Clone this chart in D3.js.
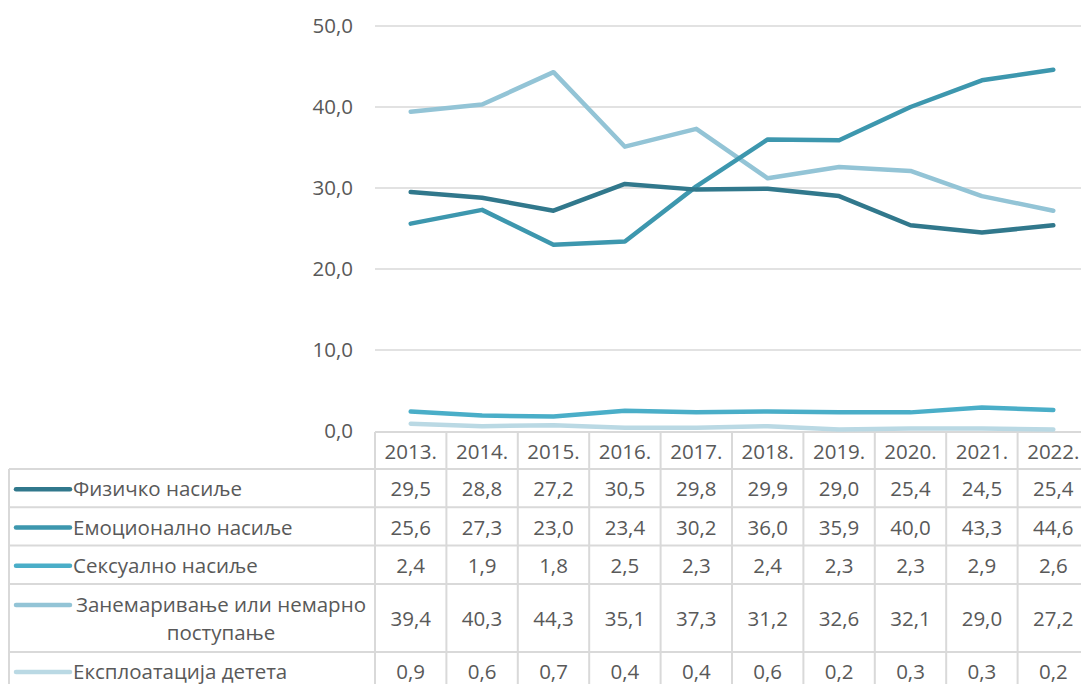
<!DOCTYPE html>
<html>
<head>
<meta charset="utf-8">
<script src="https://cdn.jsdelivr.net/npm/d3@7"></script>
<style>
  body { margin: 0; background: #fff; }
  svg { display: block; font-family: "Open Sans", "Noto Sans", sans-serif; }
</style>
</head>
<body>
<svg id="chart" width="1081" height="684"></svg>
<script>
// Data
const years = ['2013.', '2014.', '2015.', '2016.', '2017.', '2018.', '2019.', '2020.', '2021.', '2022.'];
const seriesNames = [
  ['Физичко насиље'],
  ['Емоционално насиље'],
  ['Сексуално насиље'],
  ['Занемаривање или немарно', 'поступање'],
  ['Експлоатација детета']
];
const physical   = [29.5, 28.8, 27.2, 30.5, 29.8, 29.9, 29.0, 25.4, 24.5, 25.4];
const emotional  = [25.6, 27.3, 23.0, 23.4, 30.2, 36.0, 35.9, 40.0, 43.3, 44.6];
const sexual     = [2.4, 1.9, 1.8, 2.5, 2.3, 2.4, 2.3, 2.3, 2.9, 2.6];
const neglect    = [39.4, 40.3, 44.3, 35.1, 37.3, 31.2, 32.6, 32.1, 29.0, 27.2];
const exploit    = [0.9, 0.6, 0.7, 0.4, 0.4, 0.6, 0.2, 0.3, 0.3, 0.2];
const yTicks = [0, 10, 20, 30, 40, 50];

const allSeries = [physical, emotional, sexual, neglect, exploit];
const colors = ['#31788c', '#3d97ae', '#4aaec8', '#93c4d6', '#bad9e4'];

const svg = d3.select('#chart');
const fmt = v => v.toFixed(1).replace('.', ',');
const textColor = '#595959';
const gridColor = '#d9d9d9';
const fs = 20.5;

// Layout
const plotLeft = 375, colW = 71.4;
const plotRight = plotLeft + colW * years.length;
const yTop = 26, yBottom = 431;

const x = d3.scaleBand().domain(years).range([plotLeft, plotRight]);
const y = d3.scaleLinear().domain([0, 50]).range([yBottom, yTop]);

// Gridlines
svg.append('g').selectAll('line')
  .data(yTicks.filter(t => t > 0))
  .enter().append('line')
  .attr('x1', plotLeft).attr('x2', plotRight)
  .attr('y1', d => y(d)).attr('y2', d => y(d))
  .attr('stroke', gridColor).attr('stroke-width', 1.3);

// Y axis labels
svg.append('g').selectAll('text')
  .data(yTicks)
  .enter().append('text')
  .attr('x', 353).attr('y', d => y(d))
  .attr('dy', '0.35em')
  .attr('text-anchor', 'end')
  .attr('font-size', fs)
  .attr('fill', textColor)
  .text(d => fmt(d));

// Data table
const headerTop = yBottom + 1, headerH = 37;
const rowHs = [38.3, 38.3, 38.3, 68, 38.3];
const rowTops = [];
let acc = headerTop + headerH;
rowHs.forEach(h => { rowTops.push(acc); acc += h; });
const tableLeft = 9;

const tbl = svg.append('g').attr('stroke', gridColor).attr('stroke-width', 2).attr('fill', 'none');
tbl.append('line').attr('x1', plotLeft).attr('x2', plotRight).attr('y1', headerTop).attr('y2', headerTop);
rowTops.forEach(t => {
  tbl.append('line').attr('x1', tableLeft).attr('x2', plotRight).attr('y1', t).attr('y2', t);
});
tbl.append('line').attr('x1', tableLeft).attr('x2', plotRight).attr('y1', acc).attr('y2', acc);
tbl.append('line').attr('x1', tableLeft).attr('x2', tableLeft).attr('y1', rowTops[0]).attr('y2', acc);
years.forEach(yr => {
  tbl.append('line').attr('x1', x(yr)).attr('x2', x(yr)).attr('y1', headerTop).attr('y2', acc);
});
tbl.append('line').attr('x1', plotRight).attr('x2', plotRight).attr('y1', headerTop).attr('y2', acc);

// header text
svg.append('g').selectAll('text')
  .data(years)
  .enter().append('text')
  .attr('x', d => x(d) + x.bandwidth() / 2)
  .attr('y', headerTop + headerH / 2 + 1)
  .attr('dy', '0.35em')
  .attr('text-anchor', 'middle')
  .attr('font-size', fs)
  .attr('fill', textColor)
  .text(d => d);

// rows
allSeries.forEach((vals, i) => {
  const top = rowTops[i], h = rowHs[i], cy = top + h / 2 + 1;
  const names = seriesNames[i];
  const keyY = names.length > 1 ? cy - 14 : cy;
  const row = svg.append('g');
  row.append('line')
    .attr('x1', 16).attr('x2', 70)
    .attr('y1', keyY).attr('y2', keyY)
    .attr('stroke', colors[i]).attr('stroke-width', 4.5).attr('stroke-linecap', 'round');
  if (names.length === 1) {
    row.append('text')
      .attr('x', 73).attr('y', cy).attr('dy', '0.35em')
      .attr('font-size', fs).attr('fill', textColor)
      .text(names[0]);
  } else {
    names.forEach((n, j) => {
      row.append('text')
        .attr('x', 221).attr('y', cy - 14 + j * 28).attr('dy', '0.35em')
        .attr('text-anchor', 'middle')
        .attr('font-size', fs).attr('fill', textColor)
        .text(n);
    });
  }
  row.selectAll('text.val')
    .data(vals)
    .enter().append('text')
    .attr('class', 'val')
    .attr('x', (d, k) => x(years[k]) + x.bandwidth() / 2)
    .attr('y', cy).attr('dy', '0.35em')
    .attr('text-anchor', 'middle')
    .attr('font-size', fs).attr('fill', textColor)
    .text(d => fmt(d));
});

// Lines
const line = d3.line()
  .x((d, k) => x(years[k]) + x.bandwidth() / 2)
  .y(d => y(d));

[4, 3, 2, 1, 0].forEach(i => {
  svg.append('path')
    .datum(allSeries[i])
    .attr('d', line)
    .attr('fill', 'none')
    .attr('stroke', colors[i])
    .attr('stroke-width', 4.5)
    .attr('stroke-linejoin', 'round')
    .attr('stroke-linecap', 'round');
});
</script>
</body>
</html>
